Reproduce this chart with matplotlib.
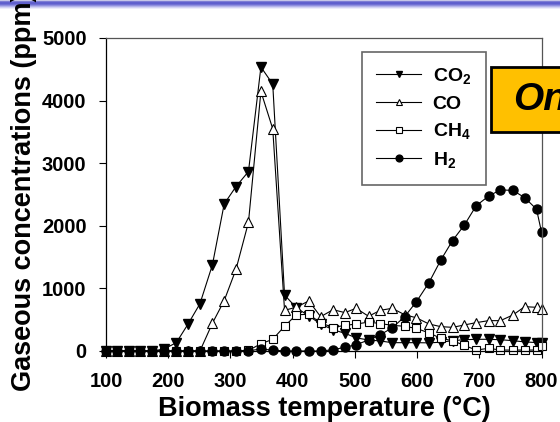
import numpy as np
import matplotlib

matplotlib.use("Agg")
import matplotlib.pyplot as plt
from matplotlib.patches import Rectangle

plt.rcParams["font.family"] = ["Liberation Sans", "DejaVu Sans"]
plt.rcParams["font.weight"] = "bold"
plt.rcParams["mathtext.fontset"] = "custom"
plt.rcParams["mathtext.rm"] = "Liberation Sans:bold"
plt.rcParams["mathtext.bf"] = "Liberation Sans:bold"
plt.rcParams["mathtext.it"] = "Liberation Sans:bold:italic"
plt.rcParams["mathtext.default"] = "rm"

# biomass temperature (°C) at each sample
temps = [100, 118, 137, 155, 174, 193, 213, 232, 251, 271,
         290, 309, 329, 349, 368, 387, 406, 426, 445, 465,
         484, 502, 522, 541, 560, 580, 599, 619, 638, 657,
         676, 695, 715, 734, 754, 773, 792, 800]

co2 = [0, 0, 0, 0, 0, 30, 133, 432, 755, 1375,
       2350, 2627, 2867, 4536, 4264, 895, 690, 560, 430, 340,
       283, 210, 176, 160, 133, 133, 133, 130, 140, 165,
       180, 187, 187, 180, 165, 145, 135, 130]

co = [0, 0, 0, 0, 0, 0, 0, 0, 0, 443,
      805, 1306, 2057, 4146, 3549, 650, 700, 800, 548, 660,
      613, 682, 555, 650, 682, 580, 530, 432, 389, 378,
      416, 453, 485, 485, 575, 708, 698, 666]

ch4 = [0, 0, 0, 0, 0, 0, 0, 0, 0, 0,
       0, 0, 10, 115, 187, 395, 580, 585, 450, 375,
       410, 430, 462, 438, 410, 395, 360, 290, 203, 165,
       90, 15, 43, 15, 15, 15, 15, 85]

h2 = [0, 0, 0, 0, 0, 0, 0, 0, 0, 0,
      0, 0, 5, 30, 15, 0, 0, 0, 0, 20,
      60, 100, 176, 260, 370, 548, 788, 1090, 1450, 1764,
      2012, 2320, 2475, 2574, 2565, 2450, 2265, 1900]

x_ticks = [100, 200, 300, 400, 500, 600, 700, 800]
y_ticks = [0, 1000, 2000, 3000, 4000, 5000]

fig = plt.figure(figsize=(5.6, 4.22), dpi=100)

# gradient bar at the top of the slide
ax_bar = fig.add_axes([0, 1 - 10 / 422, 1, 10 / 422])
bar_cols = np.array([
    [0.78, 0.78, 0.91],
    [0.45, 0.45, 0.82],
    [0.36, 0.36, 0.80],
    [0.38, 0.38, 0.81],
    [0.50, 0.50, 0.85],
    [0.65, 0.65, 0.90],
    [0.80, 0.80, 0.95],
    [0.92, 0.92, 0.98],
    [1.0, 1.0, 1.0],
])
ax_bar.imshow(bar_cols[:, None, :], aspect="auto", interpolation="bilinear")
ax_bar.axis("off")

ax = fig.add_axes([106 / 560, 1 - 351 / 422, (541.5 - 106) / 560, (351 - 38) / 422])

ax.plot(temps, co2, color="black", linewidth=0.8, marker="v", markersize=6.5,
        markerfacecolor="black", markeredgecolor="black", label="CO$_2$", clip_on=False)
ax.plot(temps, co, color="black", linewidth=0.8, marker="^", markersize=6.5,
        markerfacecolor="white", markeredgecolor="black", markeredgewidth=0.8,
        label="CO", clip_on=False)
ax.plot(temps, ch4, color="black", linewidth=0.8, marker="s", markersize=5.5,
        markerfacecolor="white", markeredgecolor="black", markeredgewidth=0.8,
        label="CH$_4$", clip_on=False)
ax.plot(temps, h2, color="black", linewidth=0.8, marker="o", markersize=6.5,
        markerfacecolor="black", markeredgecolor="black", label="H$_2$", clip_on=False)

ax.set_xlim(100, 800)
ax.set_ylim(0, 5000)
ax.set_xticks(x_ticks)
ax.set_yticks(y_ticks)
ax.tick_params(axis="both", direction="out", length=5, width=0.8, labelsize=14.5)
ax.tick_params(axis="x", pad=10)
ax.tick_params(axis="y", pad=9)
for lab in ax.get_xticklabels() + ax.get_yticklabels():
    lab.set_fontweight("bold")

ax.spines["left"].set_color("black")
ax.spines["bottom"].set_color("black")
ax.spines["top"].set_color("#555555")
ax.spines["right"].set_color("#555555")
for sp in ax.spines.values():
    sp.set_linewidth(0.9)

fig.text(324 / 560, 6 / 422, "Biomass temperature (°C)", ha="center", va="baseline",
         fontsize=19.5, fontweight="bold")
fig.text(24 / 560, 1 - 192 / 422, "Gaseous concentrations (ppm)", ha="center", va="center",
         rotation=90, fontsize=19.5, fontweight="bold")

leg = ax.legend(loc="upper left", bbox_to_anchor=(361.7 / 560, 1 - 51.7 / 422),
                bbox_transform=fig.transFigure, fontsize=14, frameon=True, fancybox=False,
                edgecolor="#666666", framealpha=1, markerscale=0.75, handlelength=2.3,
                handletextpad=0.6, labelspacing=0.45, borderpad=0.75, borderaxespad=0)
leg.get_frame().set_linewidth(1.2)
for t in leg.get_texts():
    t.set_fontweight("bold")

# yellow call-out box cut by the right edge
fig.patches.append(Rectangle((490.7 / 560, 1 - 131.7 / 422), 0.2, 65 / 422,
                             transform=fig.transFigure, facecolor="#FFC000",
                             edgecolor="black", linewidth=2, clip_on=False))
fig.text(513 / 560, 1 - 100 / 422, "On", ha="left", va="center", fontsize=28,
         fontweight="bold", fontstyle="italic")

fig.savefig("out.png", dpi=100)
